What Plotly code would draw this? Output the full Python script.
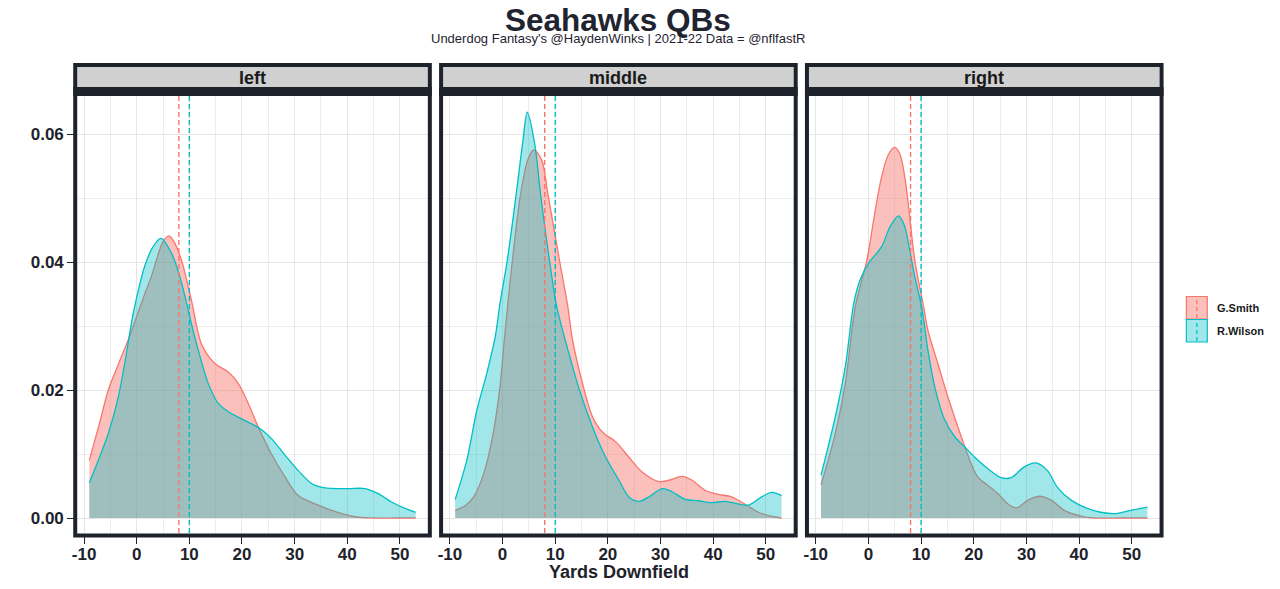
import plotly.graph_objects as go

W, H = 1280, 589

# ---------------- data ----------------
panels = ["left", "middle", "right"]
players = ["G.Smith", "R.Wilson"]
line_colors = ["#F8766D", "#00BFC4"]
fill_colors = ["rgba(248,118,109,0.46)", "rgba(0,191,196,0.37)"]
avg_depth = [8, 10]  # dashed vertical reference lines (G.Smith, R.Wilson)

x_ticks = [-10, 0, 10, 20, 30, 40, 50]
y_ticks = [0.00, 0.02, 0.04, 0.06]
y_tick_labels = ["0.00", "0.02", "0.04", "0.06"]

left_smith_x = [-9, -7, -5.4, -3.5, -1.3, 0, 1.3, 2.8, 4, 5, 6.1, 7, 8.5, 10.4, 12.3, 14.9, 17.4, 19.3,
                21.2, 23.1, 25.6, 28.2, 30.7, 34.5, 37, 41.5, 45, 49, 53]
left_smith_y = [0.0090, 0.0150, 0.0200, 0.0240, 0.0285, 0.0315, 0.0345, 0.0378, 0.0410, 0.0432, 0.0441,
                0.0433, 0.0403, 0.0340, 0.0272, 0.0241, 0.0228, 0.0210, 0.0179, 0.0142, 0.0100, 0.0064,
                0.0035, 0.0020, 0.0012, 0.0002, 0.0000, 0.0000, 0.0000]

left_wilson_x = [-9, -7.3, -5.4, -3.5, -2, -1, 0, 1.5, 3.1, 4.6, 6.6, 8.2, 9.5, 10.5, 11.7, 13.6, 15.5,
                 17.4, 19.9, 21.8, 23.4, 25.6, 28.2, 30.7, 33.2, 35.8, 40.2, 43.4, 45.9, 48.4, 51, 53]
left_wilson_y = [0.0055, 0.0090, 0.0132, 0.0189, 0.0255, 0.0305, 0.0345, 0.0393, 0.0424, 0.0437, 0.0414,
                 0.0377, 0.0335, 0.0300, 0.0262, 0.0210, 0.0179, 0.0166, 0.0155, 0.0147, 0.0140, 0.0124,
                 0.0098, 0.0074, 0.0054, 0.0047, 0.0046, 0.0046, 0.0038, 0.0025, 0.0015, 0.0009]

middle_smith_x = [-9, -7, -5.5, -3.6, -1.8, -0.5, 0.4, 1.7, 3.4, 4.8, 5.9, 7.4, 8.6, 9.7, 10.8, 12.4, 13.3,
                  15.2, 17.1, 19, 21.5, 24, 26.5, 29.7, 31.6, 34.1, 36, 38.5, 41, 43.5, 46, 48.6, 51, 53]
middle_smith_y = [0.0012, 0.0020, 0.0033, 0.0069, 0.0132, 0.0205, 0.0285, 0.0390, 0.0505, 0.0560, 0.0575,
                  0.0560, 0.0507, 0.0455, 0.0403, 0.0330, 0.0278, 0.0210, 0.0158, 0.0134, 0.0119, 0.0095,
                  0.0072, 0.0057, 0.0059, 0.0065, 0.0059, 0.0043, 0.0037, 0.0033, 0.0022, 0.0009, 0.0003,
                  0.0000]

middle_wilson_x = [-9, -6.8, -4.9, -3, -1.4, -0.5, 0.9, 2.6, 3.8, 4.7, 6.1, 7.2, 8.9, 10.3, 12.1, 14.6,
                   17.1, 19.6, 22.1, 24, 25.9, 27.8, 30.3, 32.2, 34.7, 37.2, 39.7, 42.3, 44.8, 46.7, 49.2,
                   51.1, 53]
middle_wilson_y = [0.0029, 0.0090, 0.0168, 0.0226, 0.0283, 0.0335, 0.0403, 0.0507, 0.0585, 0.0634, 0.0585,
                   0.0507, 0.0403, 0.0330, 0.0272, 0.0200, 0.0142, 0.0095, 0.0059, 0.0033, 0.0026, 0.0033,
                   0.0046, 0.0041, 0.0029, 0.0027, 0.0024, 0.0026, 0.0022, 0.0020, 0.0033, 0.0040, 0.0035]

right_smith_x = [-9, -6.3, -4.4, -2.5, -0.3, 1.3, 2.5, 3.8, 5.0, 6.0, 6.9, 7.7, 8.8, 10.6, 11.3, 13.2, 15.1,
                 17, 18.3, 19.5, 20.8, 22.7, 24.6, 26.5, 28.1, 30.3, 32.5, 34.7, 37.2, 40.4, 42.9, 48, 53]
right_smith_y = [0.0052, 0.0132, 0.0210, 0.0330, 0.0403, 0.0481, 0.0533, 0.0568, 0.0579, 0.0568, 0.0533,
                 0.0481, 0.0403, 0.0325, 0.0293, 0.0241, 0.0189, 0.0142, 0.0111, 0.0085, 0.0064, 0.0051,
                 0.0038, 0.0022, 0.0016, 0.0028, 0.0034, 0.0028, 0.0012, 0.0003, 0.0000, 0.0000, 0.0000]

right_wilson_x = [-9, -6.3, -4.4, -2.8, -1.6, 0, 2.5, 4.1, 5.7, 6.8, 7.6, 8.8, 10.1, 11.3, 12.6, 14.5, 16.4,
                  18.3, 20.2, 22.7, 25.2, 27.1, 29.6, 31.8, 34, 35.9, 38.5, 41.6, 44.1, 47, 49.8, 53]
right_wilson_y = [0.0067, 0.0158, 0.0236, 0.0335, 0.0372, 0.0398, 0.0424, 0.0455, 0.0472, 0.0458, 0.0429,
                  0.0377, 0.0330, 0.0262, 0.0205, 0.0153, 0.0127, 0.0111, 0.0095, 0.0077, 0.0063, 0.0063,
                  0.0080, 0.0086, 0.0074, 0.0048, 0.0028, 0.0015, 0.0009, 0.0007, 0.0012, 0.0017]

series = {
    "left": [(left_smith_x, left_smith_y), (left_wilson_x, left_wilson_y)],
    "middle": [(middle_smith_x, middle_smith_y), (middle_wilson_x, middle_wilson_y)],
    "right": [(right_smith_x, right_smith_y), (right_wilson_x, right_wilson_y)],
}

# ---------------- layout geometry (screen pixels) ----------------
DARK = "#1e222b"
TEXT = "#1a1a1a"
GRID = "#e6e6e6"
GRID_MINOR = "#ededed"
FONT = "Liberation Sans, Arial, sans-serif"

panel_left = [72.5, 439.8, 807.1]
panel_w = 352.0
plot_top, plot_bot = 96.0, 533.0
strip_top, strip_bot = 67.0, 87.0


def px(v):
    return v / W


def py(v):
    return 1 - v / H


fig = go.Figure()
shapes = []
annotations = []

for i, name in enumerate(panels):
    k = "" if i == 0 else str(i + 1)
    for j, (xs, ys) in enumerate(series[name]):
        fig.add_trace(go.Scatter(
            x=xs, y=ys, mode="lines",
            line=dict(color=line_colors[j], width=1.3, shape="spline", smoothing=0.9),
            fill="tozeroy", fillcolor=fill_colors[j],
            xaxis="x" + k, yaxis="y" + k, showlegend=False, hoverinfo="skip",
        ))
    # dashed reference lines
    for j, xv in enumerate(avg_depth):
        shapes.append(dict(type="line", xref="x" + k, yref="y" + k + " domain",
                           x0=xv, x1=xv, y0=0, y1=1,
                           line=dict(color=line_colors[j], width=1.4, dash="5px,3px"), layer="above"))

    L = panel_left[i]
    R = L + panel_w
    dom_x = [px(L), px(R)]
    dom_y = [py(plot_bot), py(plot_top)]
    fig.layout["xaxis" + k] = dict(
        domain=dom_x, anchor="y" + k, range=[-11.3, 55.3],
        tickmode="array", tickvals=x_ticks, ticktext=[str(t) for t in x_ticks],
        ticks="outside", ticklen=10, tickwidth=1.3, tickcolor=DARK,
        ticklabelstandoff=-4,
        tickfont=dict(family=FONT, size=17, color=DARK, weight="bold"),
        showgrid=True, gridcolor=GRID, gridwidth=1.1,
        minor=dict(tickvals=[-5, 5, 15, 25, 35, 45], showgrid=True, gridcolor=GRID_MINOR,
                   gridwidth=1, ticks=""),
        zeroline=False, showline=False, fixedrange=True,
    )
    fig.layout["yaxis" + k] = dict(
        domain=dom_y, anchor="x" + k, range=[-0.00234, 0.06594],
        tickmode="array", tickvals=y_ticks, ticktext=y_tick_labels,
        showticklabels=(i == 0), ticks="outside" if i == 0 else "",
        ticklen=9, tickwidth=1.3, tickcolor=DARK,
        tickfont=dict(family=FONT, size=17, color=DARK, weight="bold"),
        showgrid=True, gridcolor=GRID, gridwidth=1.1,
        minor=dict(tickvals=[0.01, 0.03, 0.05], showgrid=True, gridcolor=GRID_MINOR,
                   gridwidth=1, ticks=""),
        zeroline=False, showline=False, fixedrange=True,
    )

    # strip + frame
    shapes.append(dict(type="rect", xref="paper", yref="paper",
                       x0=px(L - 4), x1=px(R + 4), y0=py(plot_top), y1=py(strip_bot),
                       fillcolor=DARK, line=dict(width=0), layer="above"))
    shapes.append(dict(type="rect", xref="paper", yref="paper",
                       x0=px(L), x1=px(R), y0=py(strip_bot), y1=py(strip_top),
                       fillcolor="#d0d0d0", line=dict(width=0), layer="above"))
    shapes.append(dict(type="rect", xref="paper", yref="paper",
                       x0=px(L - 2), x1=px(R + 2), y0=py(plot_bot + 2.5), y1=py(strip_top - 2),
                       fillcolor="rgba(0,0,0,0)", line=dict(color=DARK, width=4), layer="above"))
    annotations.append(dict(text=name, xref="paper", yref="paper",
                            x=px((L + R) / 2), y=py(78), xanchor="center", yanchor="middle",
                            showarrow=False,
                            font=dict(family=FONT, size=18, color=TEXT, weight="bold")))

# titles
annotations.append(dict(text="Seahawks QBs", xref="paper", yref="paper",
                        x=px(615.5), y=1, xanchor="center", yanchor="top", showarrow=False,
                        font=dict(family=FONT, size=31.5, color="#1f2430", weight="bold")))
annotations.append(dict(text="Underdog Fantasy's @HaydenWinks | 2021-22 Data = @nflfastR",
                        xref="paper", yref="paper",
                        x=px(615.5), y=py(39), xanchor="center", yanchor="middle", showarrow=False,
                        font=dict(family=FONT, size=13, color="#1f2430")))
annotations.append(dict(text="Yards Downfield", xref="paper", yref="paper",
                        x=px(616), y=py(572), xanchor="center", yanchor="middle", showarrow=False,
                        font=dict(family=FONT, size=18, color=DARK, weight="bold")))

# legend (drawn manually as keys + labels)
key_x0, key_x1 = 1186.0, 1207.0
key_rows = [(296.5, 319.0), (319.5, 342.0)]
for j, name in enumerate(players):
    t, b = key_rows[j]
    shapes.append(dict(type="rect", xref="paper", yref="paper",
                       x0=px(key_x0), x1=px(key_x1), y0=py(b), y1=py(t),
                       fillcolor=fill_colors[j], line=dict(color=line_colors[j], width=1.2),
                       layer="above"))
    shapes.append(dict(type="line", xref="paper", yref="paper",
                       x0=px((key_x0 + key_x1) / 2), x1=px((key_x0 + key_x1) / 2),
                       y0=py(b - 1), y1=py(t + 1),
                       line=dict(color=line_colors[j], width=1.3, dash="4px,3px"), layer="above"))
    annotations.append(dict(text=name, xref="paper", yref="paper",
                            x=px(1215), y=py((t + b) / 2), xanchor="left", yanchor="middle",
                            showarrow=False,
                            font=dict(family=FONT, size=11, color=TEXT, weight="bold")))

fig.update_layout(
    width=W, height=H, autosize=False,
    margin=dict(l=0, r=0, t=0, b=0),
    paper_bgcolor="white", plot_bgcolor="white",
    shapes=shapes, annotations=annotations, showlegend=False,
    font=dict(family=FONT, color=DARK),
)

fig.write_html("out.html", config={"displayModeBar": False},
               post_script="document.body.style.margin='0';document.body.style.padding='0';")
